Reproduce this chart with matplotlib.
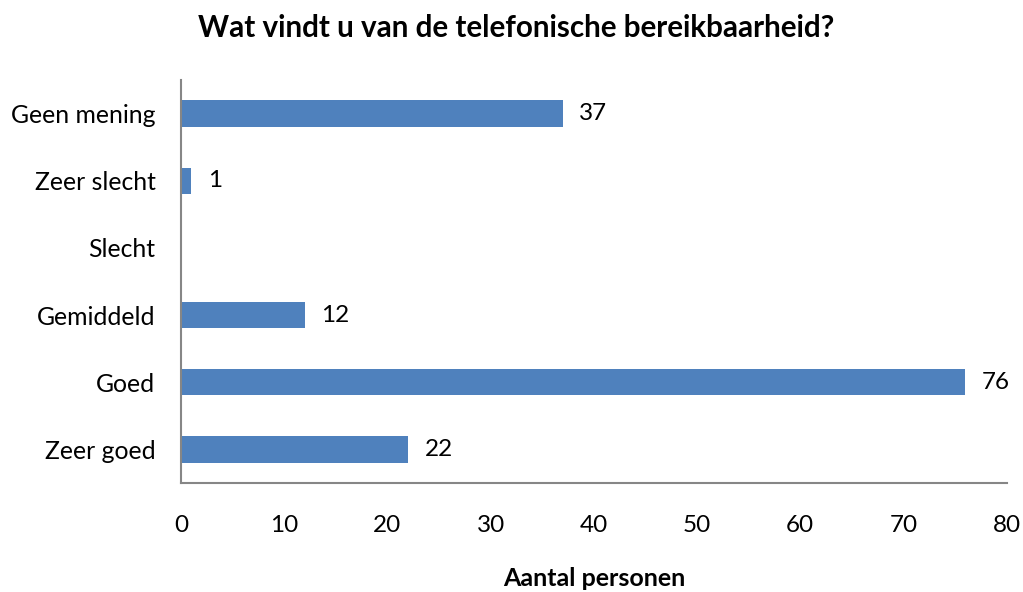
import matplotlib
matplotlib.use("Agg")
import matplotlib.pyplot as plt

categories = ["Zeer goed", "Goed", "Gemiddeld", "Slecht", "Zeer slecht", "Geen mening"]
values = [22, 76, 12, 0, 1, 37]
labels_shown = [True, True, True, False, True, True]
xticks = [0, 10, 20, 30, 40, 50, 60, 70, 80]

plt.rcParams['font.family'] = ['Lato', 'DejaVu Sans']

fig = plt.figure(figsize=(10.23, 5.92), dpi=100)
ax = fig.add_axes([0.177, 0.184, 0.807, 0.681])

pos = list(range(len(categories)))
ax.barh(pos, values, height=0.39, color="#4F81BD")
for p, v, s in zip(pos, values, labels_shown):
    if s:
        ax.text(v + 1.6, p, str(v), va="center", ha="left", fontsize=17.5, color="black")

ax.set_ylim(-0.5, 5.5)
ax.set_xlim(0, 80)
ax.set_yticks(pos)
ax.set_yticklabels(categories, fontsize=17.8)
ax.set_xticks(xticks)
ax.set_xticklabels([str(t) for t in xticks], fontsize=17.5)
ax.tick_params(axis="both", length=0)
ax.tick_params(axis="x", pad=23)
ax.tick_params(axis="y", pad=18.5)
for s in ["top", "right"]:
    ax.spines[s].set_visible(False)
for s in ["left", "bottom"]:
    ax.spines[s].set_color("#868686")
    ax.spines[s].set_linewidth(1.5)

ax.set_xlabel("Aantal personen", fontsize=18, fontweight="bold", labelpad=22)
fig.text(0.505, 0.952, "Wat vindt u van de telefonische bereikbaarheid?", ha="center", va="center",
         fontsize=21.3, fontweight="bold")

fig.savefig("out.png", dpi=100)
